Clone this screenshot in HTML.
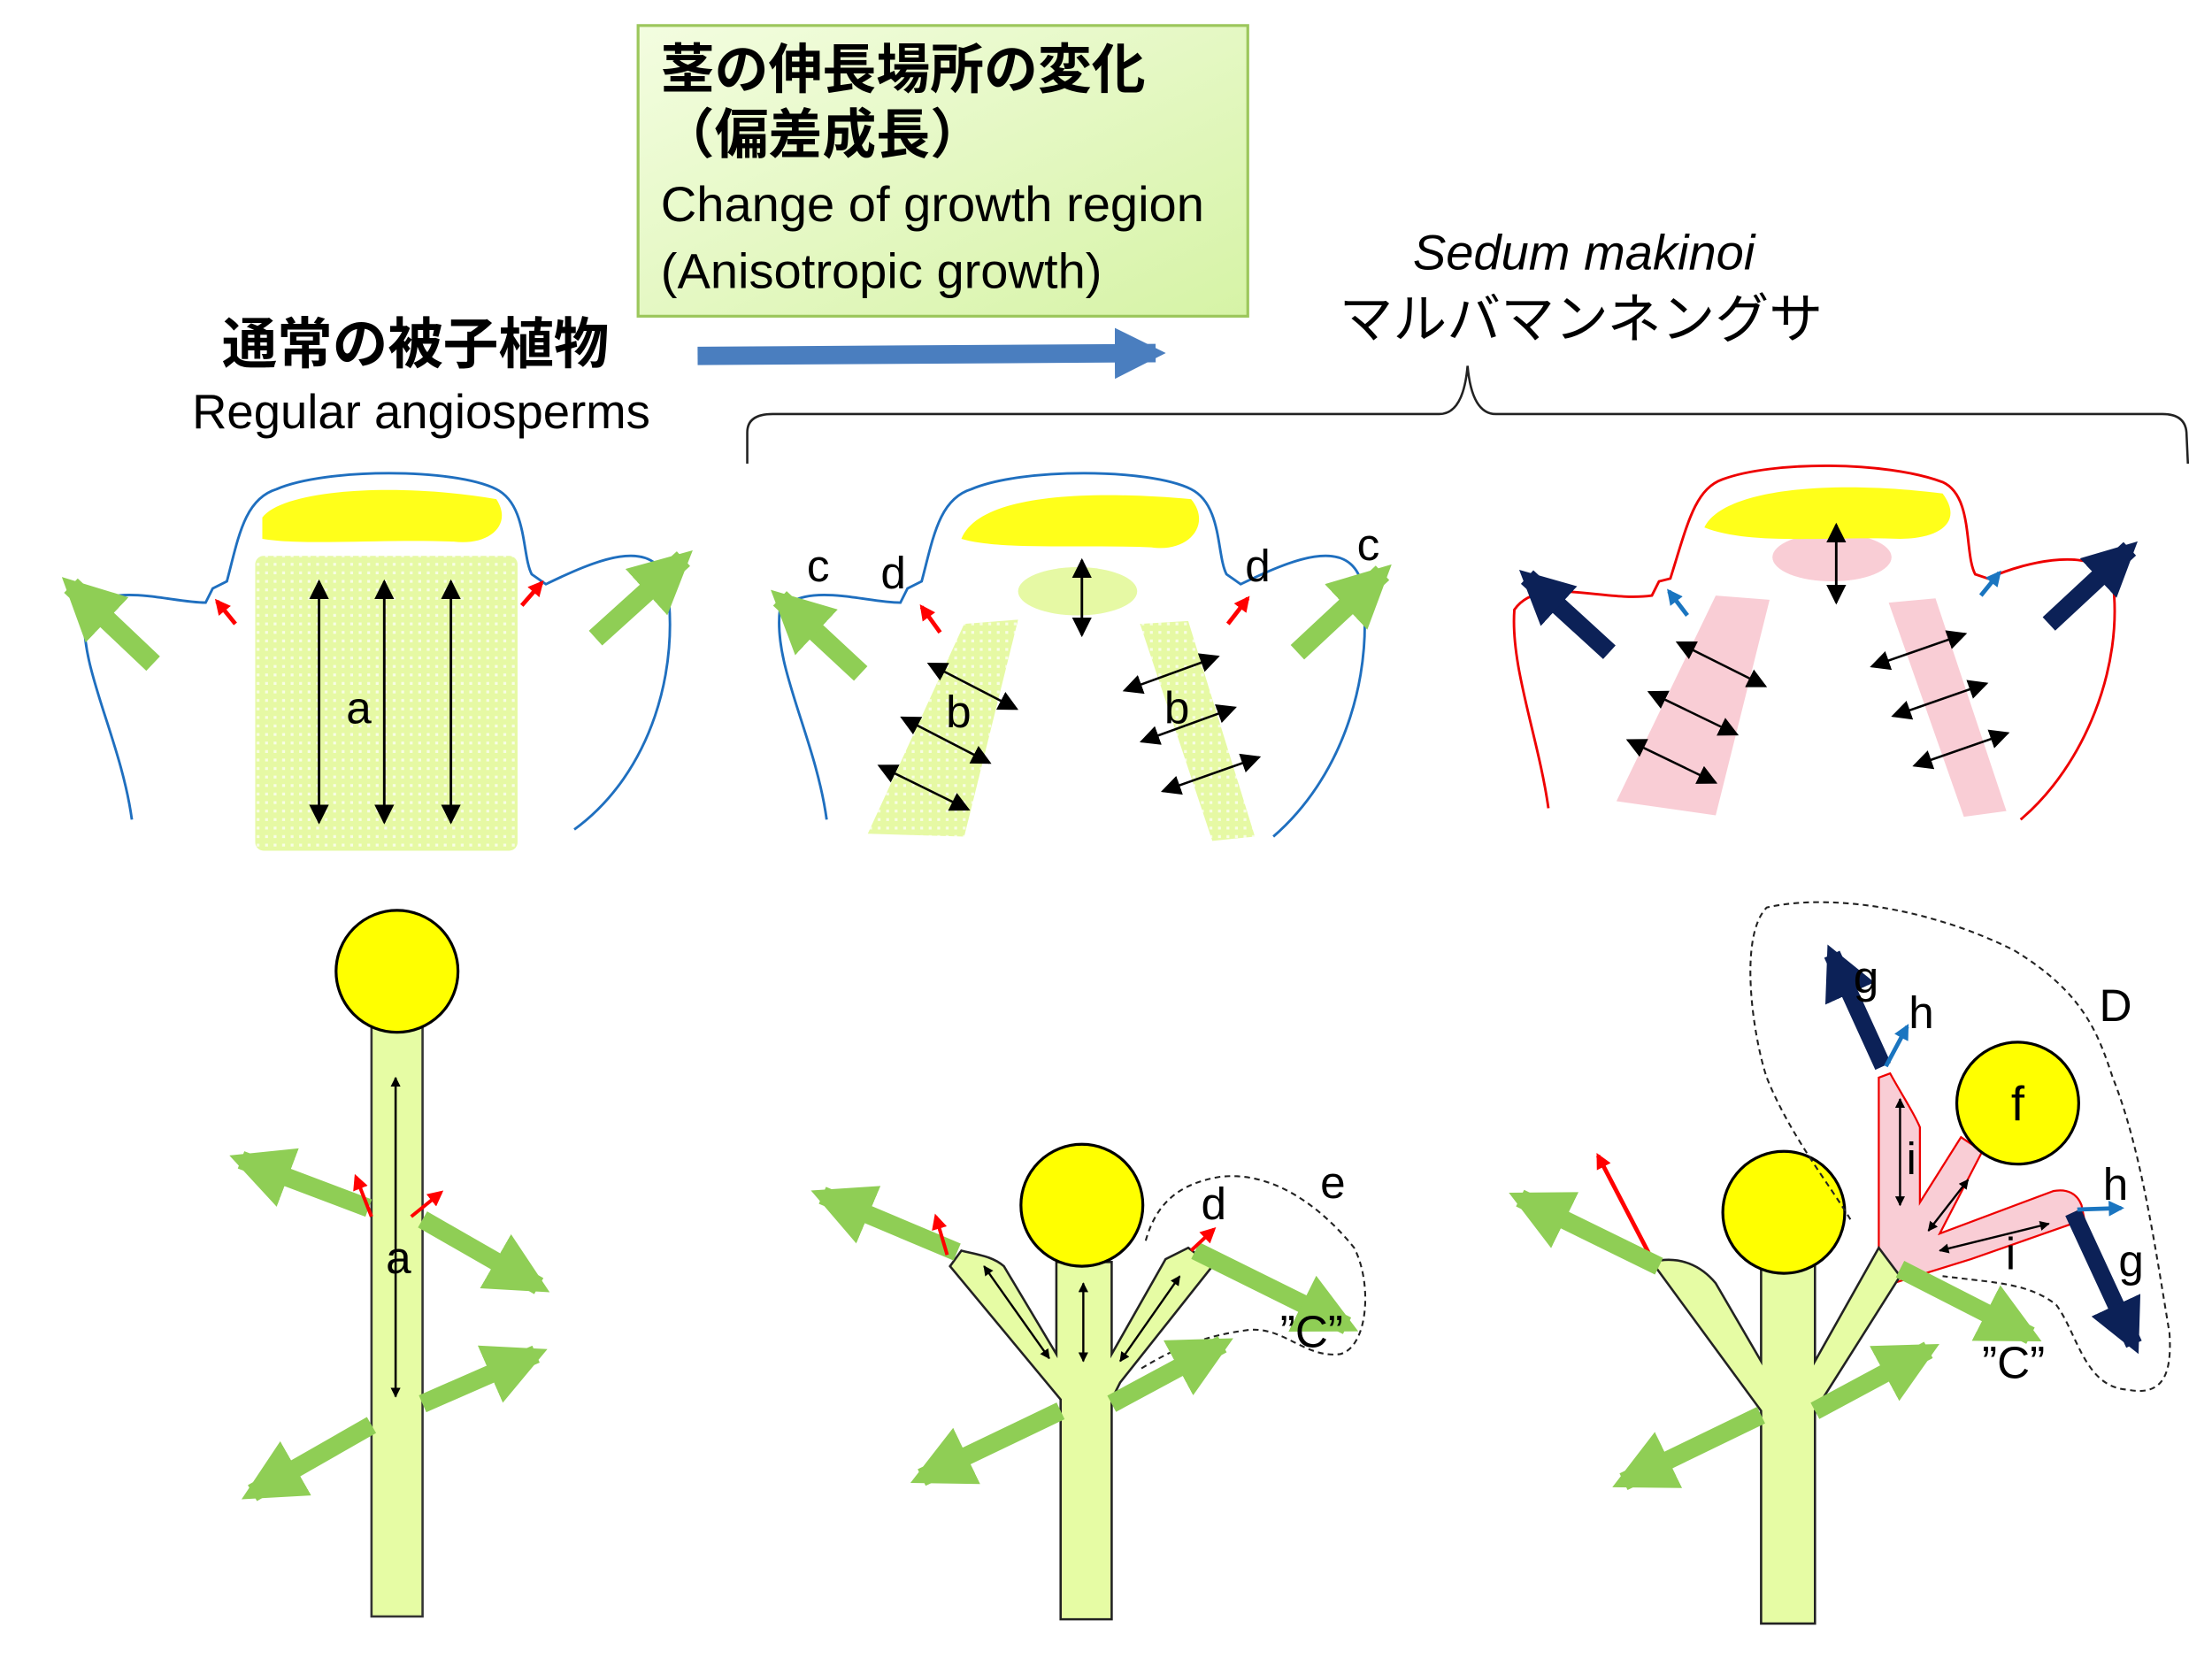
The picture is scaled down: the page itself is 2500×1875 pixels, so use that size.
<!DOCTYPE html>
<html><head><meta charset="utf-8"><style>html,body{margin:0;padding:0;background:#fff}svg{display:block}</style></head><body>
<svg width="2500" height="1875" viewBox="0 0 1560 1170" xmlns="http://www.w3.org/2000/svg" font-family="Liberation Sans, Noto Sans CJK JP, sans-serif">
<defs>
<marker id="k" viewBox="0 0 10 10" refX="9" refY="5" markerWidth="7" markerHeight="7" orient="auto-start-reverse" markerUnits="userSpaceOnUse"><path d="M0,0L10,5L0,10Z" fill="#000"/></marker>
<marker id="kb" viewBox="0 0 10 10" refX="9" refY="5" markerWidth="14" markerHeight="14" orient="auto-start-reverse" markerUnits="userSpaceOnUse"><path d="M0,0L10,5L0,10Z" fill="#000"/></marker>
<marker id="g" viewBox="0 0 10 10" refX="8" refY="5" markerWidth="44" markerHeight="44" orient="auto-start-reverse" markerUnits="userSpaceOnUse"><path d="M0,0L10,5L0,10Z" fill="#8fce55"/></marker>
<marker id="r" viewBox="0 0 10 10" refX="8" refY="5" markerWidth="11" markerHeight="11" orient="auto" markerUnits="userSpaceOnUse"><path d="M0,0L10,5L0,10Z" fill="#f00"/></marker>
<marker id="bl" viewBox="0 0 10 10" refX="8" refY="5" markerWidth="11" markerHeight="11" orient="auto" markerUnits="userSpaceOnUse"><path d="M0,0L10,5L0,10Z" fill="#1a75c0"/></marker>
<marker id="n" viewBox="0 0 10 10" refX="8" refY="5" markerWidth="38" markerHeight="38" orient="auto" markerUnits="userSpaceOnUse"><path d="M0,0L10,5L0,10Z" fill="#0c2157"/></marker>
<marker id="bb" viewBox="0 0 10 10" refX="8" refY="5" markerWidth="36" markerHeight="36" orient="auto" markerUnits="userSpaceOnUse"><path d="M0,0L10,5L0,10Z" fill="#4a7ebf"/></marker>
<linearGradient id="bx" x1="0" y1="0" x2="1" y2="1"><stop offset="0" stop-color="#f3fde0"/><stop offset="1" stop-color="#d6f3a6"/></linearGradient>
<pattern id="dot" width="6" height="6" patternUnits="userSpaceOnUse"><rect width="6" height="6" fill="#e6f9a4"/><rect x="1" y="1" width="2" height="2" fill="#f8fde6"/></pattern>
</defs>

<rect x="450" y="18" width="430" height="205" fill="url(#bx)" stroke="#9cc75c" stroke-width="2"/>
<text x="466" y="62" font-size="38" font-weight="bold">茎の伸長場所の変化</text>
<text x="466" y="108" font-size="38" font-weight="bold">（偏差成長）</text>
<text x="466" y="156" font-size="35">Change of growth region</text>
<text x="466" y="203" font-size="35">(Anisotropic growth)</text>
<line x1="492" y1="251" x2="815" y2="249" stroke="#4a7ebf" stroke-width="13" marker-end="url(#bb)"/>

<text x="293" y="256" font-size="39" font-weight="bold" text-anchor="middle">通常の被子植物</text>
<text x="297" y="302" font-size="34" text-anchor="middle">Regular angiosperms</text>
<text x="1117" y="190" font-size="35" font-style="italic" text-anchor="middle">Sedum makinoi</text>
<text x="1115" y="238" font-size="38" text-anchor="middle">マルバマンネングサ</text>
<path d="M527,327 L527,305 Q527,292 545,292 L1015,292 Q1032,292 1035,258 Q1038,292 1055,292 L1525,292 Q1541,292 1542,305 L1543,327" fill="none" stroke="#222" stroke-width="1.6"/>

<rect x="180" y="392" width="185" height="208" fill="url(#dot)" rx="6"/>
<path d="M93,578 C85,520 55,470 60,430 C80,410 120,425 145,425 L150,415 L160,410 C168,380 172,352 195,345 C230,330 320,330 350,345 C372,356 368,392 375,405 L385,412 C420,395 460,378 470,410 C480,470 460,545 405,585" fill="none" stroke="#1f6fbf" stroke-width="1.8"/>
<path d="M185,365 C200,345 280,340 350,352 C362,370 345,385 320,382 C270,380 215,385 185,380Z" fill="#ffff1a"/>
<line x1="225" y1="410" x2="225" y2="580" stroke="#000" stroke-width="1.8" marker-start="url(#kb)" marker-end="url(#kb)"/>
<line x1="271" y1="410" x2="271" y2="580" stroke="#000" stroke-width="1.8" marker-start="url(#kb)" marker-end="url(#kb)"/>
<line x1="318" y1="410" x2="318" y2="580" stroke="#000" stroke-width="1.8" marker-start="url(#kb)" marker-end="url(#kb)"/>
<text x="253" y="510" font-size="32" text-anchor="middle">a</text>
<line x1="108" y1="468" x2="50" y2="413" stroke="#8fce55" stroke-width="14" marker-end="url(#g)"/>
<line x1="420" y1="450" x2="482" y2="394" stroke="#8fce55" stroke-width="14" marker-end="url(#g)"/>
<line x1="166" y1="440" x2="153" y2="424" stroke="#f00" stroke-width="3" marker-end="url(#r)"/>
<line x1="368" y1="427" x2="382" y2="411" stroke="#f00" stroke-width="3" marker-end="url(#r)"/>

<path d="M680,440 L718,437 L680,590 L612,588 Z" fill="url(#dot)"/>
<path d="M804,440 L838,438 L885,590 L855,593 Z" fill="url(#dot)"/>
<ellipse cx="760" cy="417" rx="42" ry="17" fill="#e6f9a4"/>
<path d="M583,578 C575,520 545,470 550,430 C570,410 610,425 635,425 L640,415 L650,410 C658,380 662,352 685,345 C720,330 810,330 840,345 C862,356 858,392 865,405 L875,412 C910,395 950,378 960,410 C970,470 950,545 898,590" fill="none" stroke="#1f6fbf" stroke-width="1.8"/>
<path d="M678,380 C690,350 760,345 840,352 C855,370 838,390 812,386 C760,384 705,388 678,380Z" fill="#ffff1a"/>
<line x1="763" y1="395" x2="763" y2="448" stroke="#000" stroke-width="1.8" marker-start="url(#kb)" marker-end="url(#kb)"/>
<line x1="655" y1="468" x2="717" y2="500" stroke="#000" stroke-width="1.6" marker-start="url(#kb)" marker-end="url(#kb)"/>
<line x1="636" y1="506" x2="698" y2="538" stroke="#000" stroke-width="1.6" marker-start="url(#kb)" marker-end="url(#kb)"/>
<line x1="620" y1="540" x2="683" y2="571" stroke="#000" stroke-width="1.6" marker-start="url(#kb)" marker-end="url(#kb)"/>
<line x1="793" y1="487" x2="859" y2="463" stroke="#000" stroke-width="1.6" marker-start="url(#kb)" marker-end="url(#kb)"/>
<line x1="805" y1="523" x2="871" y2="499" stroke="#000" stroke-width="1.6" marker-start="url(#kb)" marker-end="url(#kb)"/>
<line x1="820" y1="558" x2="888" y2="534" stroke="#000" stroke-width="1.6" marker-start="url(#kb)" marker-end="url(#kb)"/>
<text x="676" y="513" font-size="32" text-anchor="middle">b</text>
<text x="830" y="510" font-size="32" text-anchor="middle">b</text>
<text x="577" y="410" font-size="32" text-anchor="middle">c</text>
<text x="630" y="415" font-size="32" text-anchor="middle">d</text>
<text x="887" y="410" font-size="32" text-anchor="middle">d</text>
<text x="965" y="395" font-size="32" text-anchor="middle">c</text>
<line x1="607" y1="475" x2="550" y2="422" stroke="#8fce55" stroke-width="14" marker-end="url(#g)"/>
<line x1="915" y1="460" x2="975" y2="404" stroke="#8fce55" stroke-width="14" marker-end="url(#g)"/>
<line x1="663" y1="446" x2="650" y2="428" stroke="#f00" stroke-width="3" marker-end="url(#r)"/>
<line x1="866" y1="440" x2="880" y2="422" stroke="#f00" stroke-width="3" marker-end="url(#r)"/>

<path d="M1210,420 L1248,423 L1210,575 L1140,565 Z" fill="#f9cdd5"/>
<path d="M1332,425 L1365,422 L1415,572 L1385,576 Z" fill="#f9cdd5"/>
<ellipse cx="1292" cy="393" rx="42" ry="17" fill="#f9cdd5"/>
<path d="M1092,570 C1085,520 1065,470 1068,430 C1085,405 1130,425 1165,420 L1170,410 L1178,408 C1190,370 1195,345 1215,338 C1250,325 1330,325 1370,340 C1392,350 1385,390 1393,405 L1402,408 C1430,395 1480,385 1490,410 C1498,470 1470,540 1425,578" fill="none" stroke="#e00" stroke-width="1.8"/>
<path d="M1202,372 C1215,345 1290,338 1370,348 C1385,368 1368,380 1340,380 C1290,378 1235,385 1202,372Z" fill="#ffff1a"/>
<line x1="1295" y1="370" x2="1295" y2="425" stroke="#000" stroke-width="1.8" marker-start="url(#kb)" marker-end="url(#kb)"/>
<line x1="1183" y1="453" x2="1245" y2="484" stroke="#000" stroke-width="1.6" marker-start="url(#kb)" marker-end="url(#kb)"/>
<line x1="1163" y1="488" x2="1225" y2="518" stroke="#000" stroke-width="1.6" marker-start="url(#kb)" marker-end="url(#kb)"/>
<line x1="1148" y1="522" x2="1210" y2="552" stroke="#000" stroke-width="1.6" marker-start="url(#kb)" marker-end="url(#kb)"/>
<line x1="1320" y1="470" x2="1386" y2="447" stroke="#000" stroke-width="1.6" marker-start="url(#kb)" marker-end="url(#kb)"/>
<line x1="1335" y1="505" x2="1401" y2="482" stroke="#000" stroke-width="1.6" marker-start="url(#kb)" marker-end="url(#kb)"/>
<line x1="1350" y1="540" x2="1416" y2="517" stroke="#000" stroke-width="1.6" marker-start="url(#kb)" marker-end="url(#kb)"/>
<line x1="1135" y1="460" x2="1077" y2="407" stroke="#0c2157" stroke-width="13" marker-end="url(#n)"/>
<line x1="1445" y1="440" x2="1502" y2="387" stroke="#0c2157" stroke-width="13" marker-end="url(#n)"/>
<line x1="1190" y1="434" x2="1177" y2="417" stroke="#1a75c0" stroke-width="3" marker-end="url(#bl)"/>
<line x1="1397" y1="420" x2="1410" y2="404" stroke="#1a75c0" stroke-width="3" marker-end="url(#bl)"/>

<rect x="262" y="722" width="36" height="418" fill="#e6fca4" stroke="#333" stroke-width="1.6"/>
<circle cx="280" cy="685" r="43" fill="#ffff00" stroke="#000" stroke-width="2"/>
<line x1="279" y1="760" x2="279" y2="985" stroke="#000" stroke-width="1.6" marker-start="url(#k)" marker-end="url(#k)"/>
<text x="281" y="898" font-size="32" text-anchor="middle">a</text>
<line x1="260" y1="852" x2="170" y2="818" stroke="#8fce55" stroke-width="13" marker-end="url(#g)"/>
<line x1="298" y1="860" x2="380" y2="907" stroke="#8fce55" stroke-width="13" marker-end="url(#g)"/>
<line x1="298" y1="990" x2="378" y2="955" stroke="#8fce55" stroke-width="13" marker-end="url(#g)"/>
<line x1="262" y1="1005" x2="178" y2="1053" stroke="#8fce55" stroke-width="13" marker-end="url(#g)"/>
<line x1="262" y1="858" x2="251" y2="830" stroke="#f00" stroke-width="2.5" marker-end="url(#r)"/>
<line x1="290" y1="858" x2="311" y2="841" stroke="#f00" stroke-width="2.5" marker-end="url(#r)"/>

<path d="M748,1142 L748,987 L670,893 L678,882 C690,885 700,886 708,893 L745,955 L745,890 L784,890 L784,955 L822,888 L838,880 L855,893 L790,975 L784,987 L784,1142 Z" fill="#e6fca4" stroke="#222" stroke-width="1.6"/>
<circle cx="763" cy="850" r="43" fill="#ffff00" stroke="#000" stroke-width="2"/>
<path d="M808,875 C815,850 830,835 860,830 C900,825 935,855 955,880 C968,905 965,950 945,955 C920,958 905,935 880,938 C850,942 830,950 805,965" fill="none" stroke="#222" stroke-width="1.3" stroke-dasharray="4,3"/>
<line x1="694" y1="893" x2="740" y2="958" stroke="#000" stroke-width="1.5" marker-start="url(#k)" marker-end="url(#k)"/>
<line x1="764" y1="905" x2="764" y2="960" stroke="#000" stroke-width="1.5" marker-start="url(#k)" marker-end="url(#k)"/>
<line x1="832" y1="900" x2="790" y2="960" stroke="#000" stroke-width="1.5" marker-start="url(#k)" marker-end="url(#k)"/>
<line x1="675" y1="883" x2="580" y2="843" stroke="#8fce55" stroke-width="13" marker-end="url(#g)"/>
<line x1="843" y1="882" x2="950" y2="935" stroke="#8fce55" stroke-width="13" marker-end="url(#g)"/>
<line x1="784" y1="990" x2="862" y2="948" stroke="#8fce55" stroke-width="13" marker-end="url(#g)"/>
<line x1="748" y1="995" x2="650" y2="1042" stroke="#8fce55" stroke-width="13" marker-end="url(#g)"/>
<line x1="668" y1="885" x2="660" y2="858" stroke="#f00" stroke-width="2.5" marker-end="url(#r)"/>
<line x1="840" y1="882" x2="856" y2="867" stroke="#f00" stroke-width="2.5" marker-end="url(#r)"/>
<text x="856" y="860" font-size="32" text-anchor="middle">d</text>
<text x="940" y="845" font-size="32" text-anchor="middle">e</text>
<text x="925" y="950" font-size="32" text-anchor="middle">”C”</text>

<path d="M1325,760 L1333,757 C1340,770 1350,785 1354,795 L1354,848 L1383,802 L1398,812 L1368,870 L1448,840 C1458,838 1465,842 1468,850 L1470,860 L1390,888 L1335,905 L1325,880 Z" fill="#f9cdd5" stroke="#e00" stroke-width="1.4"/>
<path d="M1242,1145 L1242,995 L1165,890 C1185,885 1200,893 1210,905 L1242,960 L1242,890 L1280,890 L1280,960 L1325,880 L1340,900 L1280,995 L1280,1145 Z" fill="#e6fca4" stroke="#222" stroke-width="1.6"/>
<circle cx="1258" cy="855" r="43" fill="#ffff00" stroke="#000" stroke-width="2"/>
<circle cx="1423" cy="778" r="43" fill="#ffff00" stroke="#000" stroke-width="2"/>
<path d="M1305,860 C1290,835 1262,800 1246,760 C1236,730 1226,660 1246,640 C1290,630 1360,640 1420,670 C1470,700 1480,730 1490,760 C1510,810 1520,880 1530,940 C1532,970 1525,985 1500,980 C1470,978 1465,940 1450,920 C1430,905 1410,905 1370,900" fill="none" stroke="#222" stroke-width="1.3" stroke-dasharray="4,3"/>
<line x1="1340" y1="775" x2="1340" y2="850" stroke="#000" stroke-width="1.5" marker-start="url(#k)" marker-end="url(#k)"/>
<line x1="1388" y1="832" x2="1360" y2="868" stroke="#000" stroke-width="1.5" marker-start="url(#k)" marker-end="url(#k)"/>
<line x1="1445" y1="863" x2="1368" y2="882" stroke="#000" stroke-width="1.5" marker-start="url(#k)" marker-end="url(#k)"/>
<text x="1348" y="828" font-size="32" text-anchor="middle">i</text>
<text x="1418" y="895" font-size="32" text-anchor="middle">i</text>
<text x="1423" y="790" font-size="34" text-anchor="middle">f</text>
<line x1="1328" y1="752" x2="1292" y2="673" stroke="#0c2157" stroke-width="12" marker-end="url(#n)"/>
<line x1="1462" y1="855" x2="1505" y2="948" stroke="#0c2157" stroke-width="12" marker-end="url(#n)"/>
<line x1="1330" y1="752" x2="1345" y2="724" stroke="#1a75c0" stroke-width="3" marker-end="url(#bl)"/>
<line x1="1465" y1="853" x2="1496" y2="852" stroke="#1a75c0" stroke-width="3" marker-end="url(#bl)"/>
<text x="1316" y="700" font-size="32" text-anchor="middle">g</text>
<text x="1355" y="725" font-size="32" text-anchor="middle">h</text>
<text x="1492" y="720" font-size="32" text-anchor="middle">D</text>
<text x="1492" y="846" font-size="32" text-anchor="middle">h</text>
<text x="1503" y="900" font-size="32" text-anchor="middle">g</text>
<text x="1420" y="972" font-size="32" text-anchor="middle">”C”</text>
<line x1="1165" y1="888" x2="1127" y2="815" stroke="#f00" stroke-width="3" marker-end="url(#r)"/>
<line x1="1170" y1="893" x2="1072" y2="845" stroke="#8fce55" stroke-width="13" marker-end="url(#g)"/>
<line x1="1340" y1="895" x2="1432" y2="942" stroke="#8fce55" stroke-width="13" marker-end="url(#g)"/>
<line x1="1280" y1="995" x2="1360" y2="952" stroke="#8fce55" stroke-width="13" marker-end="url(#g)"/>
<line x1="1242" y1="998" x2="1145" y2="1045" stroke="#8fce55" stroke-width="13" marker-end="url(#g)"/>
</svg>
</body></html>
